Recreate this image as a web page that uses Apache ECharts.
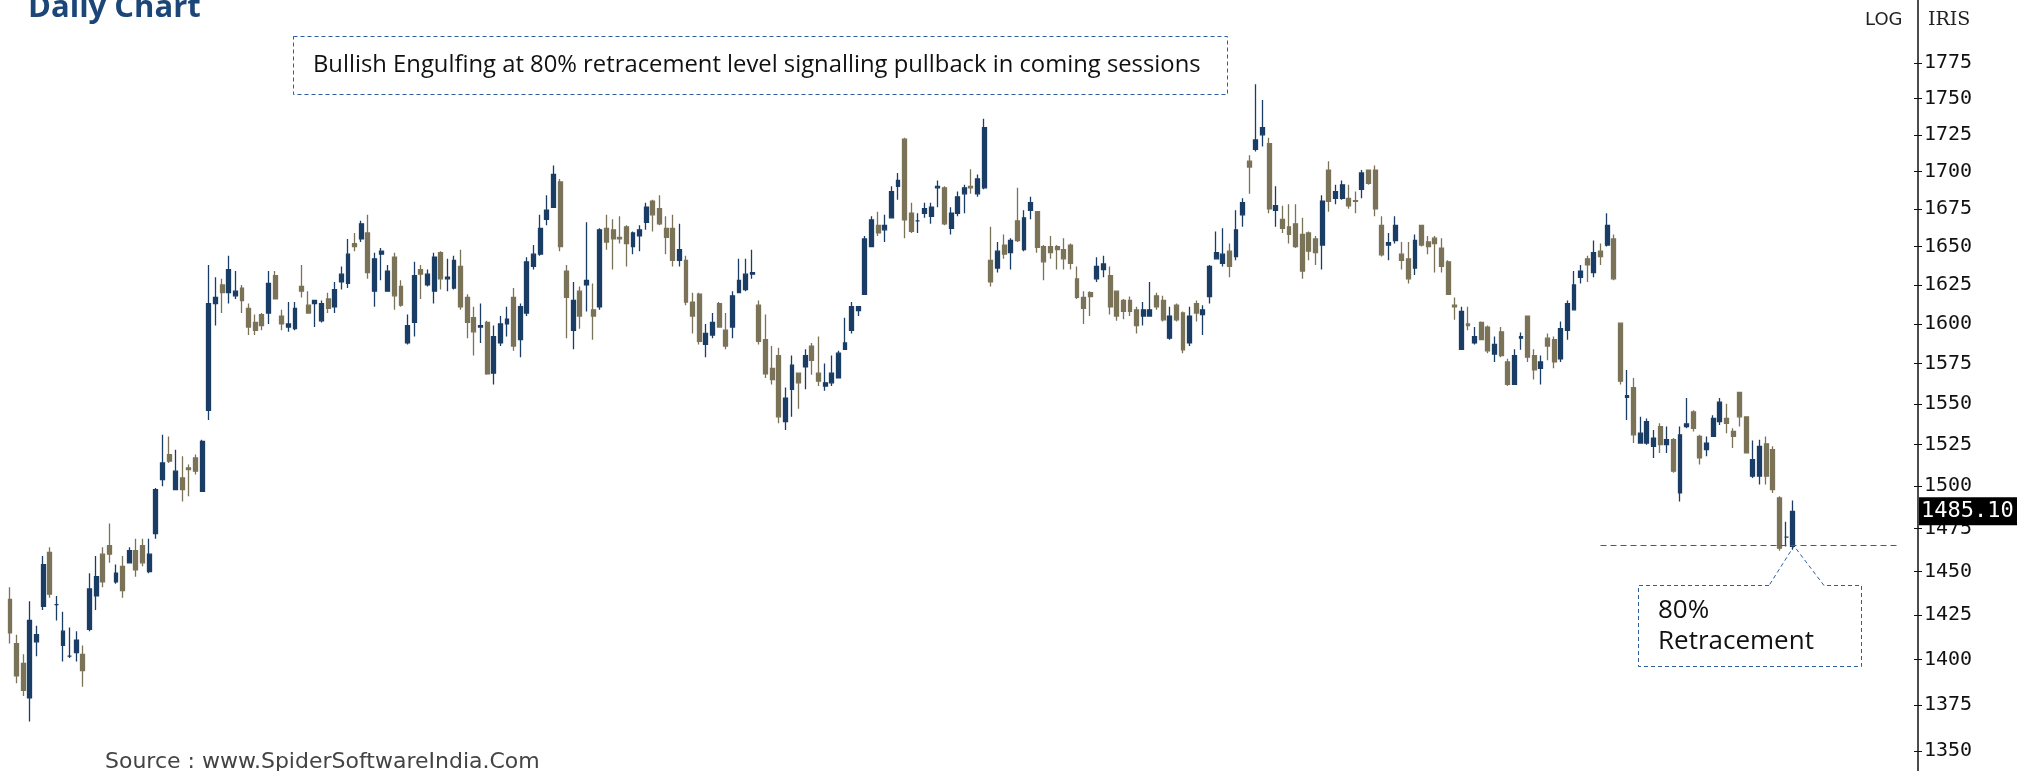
<!DOCTYPE html>
<html><head><meta charset="utf-8">
<script src="https://cdn.jsdelivr.net/npm/echarts/dist/echarts.min.js"></script>
<style>html,body{margin:0;padding:0;background:#fff;overflow:hidden}#c{width:2017px;height:771px}</style>
</head><body><div id="c"></div>
<script>
// Daily candles, oldest first
const OPEN = [
1434,1409,1398,1379,1410,1430,1461,1431,1408,1402,
1404,1403,1417,1436,1460,1465,1444,1453,1455,1462,
1465,1450,1472,1504,1519,1498,1505,1511,1517,1497,
1546,1613,1625,1620,1618,1623,1610,1601,1606,1607,
1631,1605,1598,1597,1624,1612,1613,1602,1616,1611,
1627,1626,1652,1655,1659,1621,1645,1621,1643,1624,
1588,1601,1635,1625,1621,1646,1629,1623,1637,1617,
1604,1598,1601,1569,1588,1600,1617,1590,1607,1637,
1645,1668,1676,1693,1634,1596,1621,1625,1609,1611,
1662,1661,1656,1663,1650,1657,1666,1680,1675,1662,
1662,1641,1641,1614,1619,1587,1593,1613,1596,1598,
1620,1622,1632,1612,1590,1572,1580,1539,1559,1569,
1573,1586,1569,1561,1563,1566,1584,1596,1608.5,1619,
1650,1664,1661,1669,1690,1722,1672,1667,1672,1670,
1689,1689,1662,1672,1685,1690,1685,1689,1641,1636,
1651,1646,1667,1648,1674,1673,1650,1650,1650,1648,
1651,1629,1617,1620,1629,1635,1631,1621,1615,1615,
1609,1605,1605,1618,1615,1591,1612,1607,1588,1613,
1606,1617.5,1642,1639,1647,1643.5,1671,1707,1715,1725,
1719,1674,1668,1663,1665,1658,1659,1655,1651,1701,
1682,1682,1682,1680.4,1688,1701,1701,1664,1651,1654,
1645,1642,1636,1664,1653,1655.5,1649,1640,1612,1584,
1600,1588,1601,1598,1581,1595,1576,1562,1591,1605,
1580,1572,1591,1590,1578,1596,1609,1630,1642,1633,
1647,1651,1655,1600.5,1554,1560,1526,1526,1524,1536,
1525,1528,1496,1536,1545,1530,1522,1530,1539,1541,
1533,1557,1542,1506,1506,1525.5,1522,1493,1470,1464.5
];
const HIGH = [
1441,1414,1403,1433,1419,1459,1464,1436,1427,1418,
1416,1408,1449,1459,1464,1478,1454,1459,1464,1469,
1469,1469,1499,1531,1530,1522,1518,1513,1519,1528,
1638,1630,1629,1644,1634,1625,1613,1606,1607,1634,
1634,1609,1614,1614,1638,1621,1615,1615,1620,1627,
1637,1655,1659,1667,1671,1646,1649,1638,1646,1628,
1606,1640,1638,1635,1646,1647,1642,1644,1648,1619,
1611,1613,1602,1599,1605,1611,1623,1613,1643,1651,
1671,1684,1704,1695,1638,1627,1624,1666,1626,1662,
1671,1668,1670,1664,1660,1664,1679,1681,1684,1670,
1671,1665,1644,1620,1620,1600,1607,1614,1607,1621,
1642,1642,1648,1615,1606,1586,1585,1560,1580,1569,
1584,1588,1592,1575,1580,1583,1604,1614,1611,1657,
1670,1673,1671,1690,1699,1723,1679,1672,1679,1679,
1694,1690,1676,1686.5,1691,1701.5,1698,1736,1663,1653,
1658,1655.5,1689,1674,1683,1673,1651,1657,1651,1655.5,
1652,1637,1621,1621,1643,1644,1637,1621,1616,1617.5,
1611,1614,1627,1620,1618,1611,1613,1608,1611,1615,
1612,1638,1660,1662,1652,1674,1682,1711,1760,1749,
1723,1690,1677,1678,1678,1669,1660,1657,1684,1707,
1691,1694,1691,1686.5,1701,1701,1704,1670,1659,1670,
1653,1653,1658,1664,1657,1657,1655.5,1641,1617,1611,
1611,1598,1601.5,1599,1592,1598,1578,1584,1594.5,1605,
1584,1580,1594,1592,1601.5,1615,1634,1638,1644,1654,
1652,1672,1658,1600.5,1571,1566,1542,1541,1534,1538,
1536,1529,1536,1553.5,1546,1531,1530,1543,1553.5,1550,
1535,1557,1542,1527.5,1528,1530,1524,1494,1479,1491.5
];
const LOW = [
1409,1387,1380,1366,1402,1428,1435,1422,1399,1401,
1399,1385,1416,1428,1441,1455,1443,1435,1455,1447,
1453,1449,1469,1500,1514,1498,1491,1494,1507,1497,
1540,1599,1607,1613,1616,1607,1593,1593,1596,1600,
1616,1596,1595,1596,1617,1607,1598,1601,1607,1607,
1622,1623,1647,1653,1629,1611,1628,1621,1609,1611,
1587,1592,1616,1624,1613,1622,1621,1622,1609,1591,
1580,1588,1568,1562,1586,1592,1583,1579,1605,1635,
1644,1664,1676,1647,1591,1584,1597,1608,1590,1609,
1648,1635,1652,1637,1645,1647,1661,1660,1664,1645,
1637,1637,1612,1594,1587,1579,1591,1598,1584,1591,
1620,1621,1629,1587,1566,1562,1538,1534,1542,1547,
1559,1568,1561,1558,1561,1566,1584,1594,1605,1618.5,
1649.5,1657,1653,1669,1681,1655.5,1659,1659,1669,1665,
1676,1664,1658,1670,1672,1685,1683,1688,1624,1633,
1642,1635,1653,1647,1668,1646,1628,1642,1635,1635,
1635,1616,1600,1605,1627,1630,1606,1602,1603,1605,
1594,1599,1605,1609,1601.5,1590,1601.5,1581.5,1586,1601.5,
1593,1613,1642,1637,1630,1641,1663,1685,1713.5,1717,
1672,1663,1659,1652,1649,1629,1641,1638,1635,1673,
1678,1681,1675,1672,1682,1691,1670,1643.5,1641,1652,
1635,1626,1631.5,1650,1645,1633,1633,1618.5,1602.6,1583.6,
1596,1587,1590,1581.5,1576,1579,1561,1561.7,1583.6,1576,
1565,1562,1577,1572,1576,1590,1609,1626,1627,1630,
1638,1650,1628,1562,1540,1526,1526,1525,1517,1520,
1520,1508,1491,1535,1533,1513,1518,1530,1537,1532,
1523,1536,1520,1505,1501,1501,1496,1462,1464.5,1462.6
];
const CLOSE = [
1415,1391,1383,1422,1414,1454,1437,1431,1416,1402,
1411,1394,1440,1447,1444,1460,1449,1439,1462,1451,
1455,1460,1498,1514,1515,1509,1498,1510,1509,1527,
1613,1617,1620,1635,1621,1615,1598,1596,1599,1626,
1616,1600,1600,1610,1621,1607,1615,1613,1610,1622,
1632,1645,1650,1665,1633,1642,1647,1634,1618,1612,
1599,1631,1632,1632,1643,1629,1630,1641,1611,1601,
1595,1599,1568.5,1592,1600,1603,1586,1611,1640,1645,
1662,1674,1698,1650,1617,1615,1605,1628,1605,1661,
1653,1655,1655,1652,1659,1661,1676,1671,1665,1656,
1641,1648,1614,1605,1589,1594,1601,1598,1586,1618,
1628,1632,1633,1589,1568.5,1565,1542,1553.5,1574,1563,
1580,1577,1564,1563,1569,1581.5,1588,1611,1611,1655,
1667.6,1659,1664,1686.5,1694,1667.6,1660,1667,1675,1676,
1690,1665,1672,1683,1689,1689,1695,1730,1627,1647,
1645,1654,1654,1669,1679,1649.5,1640,1646,1648,1642,
1639,1617,1610,1617.5,1637,1638.6,1611,1605,1608,1608,
1599,1609,1609,1611,1602.6,1605,1602.6,1583.6,1605,1607,
1609,1637,1646,1645,1637,1661,1679,1703,1721.5,1730,
1675,1677,1662,1658,1650,1634,1647,1646,1680,1680,
1686.5,1691,1677,1680,1699,1692,1675,1644.6,1652.6,1664,
1641,1629,1654,1651,1650,1652,1637,1619,1611,1608,
1599,1592,1590,1583,1587,1580,1562,1580,1592,1579,
1571,1576,1586,1576,1597,1613,1625,1634,1638,1646,
1643.5,1664,1629,1564,1555,1531,1532,1539,1529,1525,
1528,1509,1531,1537.6,1535,1517,1526,1541,1551,1538,
1530,1542,1520,1516,1524,1506,1498,1463.5,1470,1485.1
];
const TICKS = [1350,1375,1400,1425,1450,1475,1500,1525,1550,1575,1600,1625,1650,1675,1700,1725,1750,1775];
const LAST_PRICE = 1485.10;
const RETRACE_80 = 1465;
const RETRACE_FROM = 240, RETRACE_TO = 285;   // category slots spanned by the dashed level
const SLOTS = 288;                            // trading-day slots incl. empty right margin

const cats = [];
for (let i = 0; i < SLOTS; i++) cats.push(String(i + 1));
const ohlc = OPEN.map((o, i) => [o, CLOSE[i], LOW[i], HIGH[i]]);

const UP = '#1a3d66', DOWN = '#7b7358', BLUE = '#2d5f9e';
const chart = echarts.init(document.getElementById('c'), null, {renderer: 'canvas'});

const yBase = {type: 'log', logBase: 10, min: 1339.4, max: 1820, position: 'right', offset: 2.7,
  splitLine: {show: false}};

const graphics = [
  {type: 'text', id: 'title', x: 28, y: 8, style: {text: 'Daily Chart', font: 'bold 31px "Open Sans"', fill: '#1b4677', verticalAlign: 'middle'}},
  {type: 'rect', id: 'box1', shape: {x: 293.5, y: 36.5, width: 934, height: 58},
    style: {fill: 'none', stroke: BLUE, lineWidth: 1, lineDash: [4, 3]}},
  {type: 'text', id: 'box1t', x: 313, y: 65, style: {text: 'Bullish Engulfing at 80% retracement level signalling pullback in coming sessions',
    font: '23.8px "Open Sans"', fill: '#111', verticalAlign: 'middle'}},
  {type: 'polyline', id: 'box2', shape: {points: [[1769, 585.5], [1638.5, 585.5], [1638.5, 666.5], [1861.5, 666.5], [1861.5, 585.5], [1824, 585.5], [1794, 546], [1769, 585.5]]},
    style: {fill: 'none', stroke: BLUE, lineWidth: 1, lineDash: [4, 3]}},
  {type: 'text', id: 'box2a', x: 1658, y: 611, style: {text: '80%', font: '26px "Open Sans"', fill: '#111', verticalAlign: 'middle'}},
  {type: 'text', id: 'box2b', x: 1658, y: 642, style: {text: 'Retracement', font: '26px "Open Sans"', fill: '#111', verticalAlign: 'middle'}},
  {type: 'text', id: 'src', x: 105, y: 762, style: {text: 'Source : www.SpiderSoftwareIndia.Com', font: '22px "DejaVu Sans"', fill: '#444', verticalAlign: 'middle'}},
  {type: 'text', id: 'log', x: 1865, y: 20, style: {text: 'LOG', font: '18px "DejaVu Sans"', fill: '#222', verticalAlign: 'middle'}},
  {type: 'text', id: 'iris', x: 1928, y: 20, style: {text: 'IRIS', font: '19px "DejaVu Serif"', fill: '#222', verticalAlign: 'middle'}}
];

chart.setOption({
  animation: false,
  backgroundColor: '#ffffff',
  grid: {left: 6.7, right: 101.7, top: 0, bottom: 0, containLabel: false},
  xAxis: {type: 'category', data: cats, boundaryGap: true, show: false},
  yAxis: [
    Object.assign({}, yBase, {
      axisLine: {show: true, lineStyle: {color: '#111', width: 1.5}},
      axisTick: {show: true, length: 4, customValues: TICKS, lineStyle: {color: '#111'}},
      axisLabel: {show: true, customValues: TICKS, margin: 6, fontFamily: 'DejaVu Sans Mono', fontSize: 20, color: '#111',
        formatter: v => String(Math.round(v))}
    }),
    Object.assign({}, yBase, {
      axisLine: {show: false},
      axisTick: {show: true, inside: true, length: 4, customValues: TICKS, lineStyle: {color: '#111'}},
      axisLabel: {show: false}
    })
  ],
  series: [{
    type: 'candlestick', yAxisIndex: 0, data: ohlc, barWidth: 4.4,
    itemStyle: {color: UP, color0: DOWN, borderColor: UP, borderColor0: DOWN, borderColorDoji: UP, borderWidth: 1.3},
    markLine: {
      silent: true, symbol: ['none', 'none'], label: {show: false},
      lineStyle: {color: BLUE, type: [6, 4], width: 1},
      data: [[{coord: [RETRACE_FROM, RETRACE_80]}, {coord: [RETRACE_TO, RETRACE_80]}]]
    }
  }],
  graphic: graphics
});

const py = chart.convertToPixel({yAxisIndex: 0}, LAST_PRICE);
chart.setOption({graphic: graphics.concat([
  {type: 'rect', id: 'tagbg', z: 100, shape: {x: 1919, y: py - 14, width: 98, height: 28}, style: {fill: '#000'}},
  {type: 'text', id: 'tagtx', z: 101, x: 1921, y: py, style: {text: LAST_PRICE.toFixed(2), font: '22px "DejaVu Sans Mono"', fill: '#fff', verticalAlign: 'middle'}}
])});
</script></body></html>
